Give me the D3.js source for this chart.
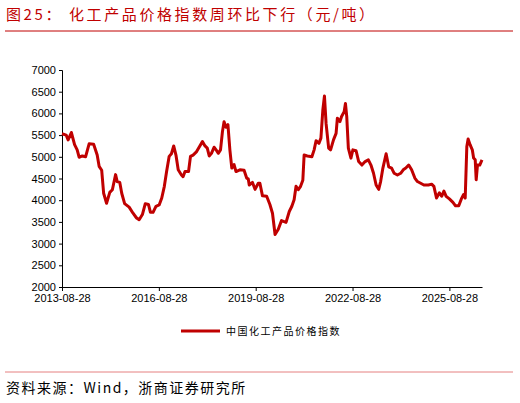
<!DOCTYPE html>
<html>
<head>
<meta charset="utf-8">
<script src="https://cdn.jsdelivr.net/npm/d3@7"></script>
<style>
  body { margin: 0; background: #fff; }
  svg { display: block; font-family: "Noto Sans CJK SC", "DejaVu Sans", sans-serif; }
</style>
</head>
<body>
<svg id="chart" width="520" height="403"></svg>
<script>
// decimal years
const years = [2013.66,2013.79,2013.85,2013.95,2014.05,2014.13,2014.19,2014.29,2014.39,2014.50,2014.64,2014.75,2014.81,2014.89,2014.95,
  2015.04,2015.14,2015.22,2015.32,2015.37,2015.45,2015.51,2015.60,2015.74,2015.86,2015.97,2016.05,2016.15,2016.24,2016.34,2016.40,
  2016.48,2016.57,2016.67,2016.75,2016.83,2016.90,2016.98,2017.05,2017.12,2017.19,2017.26,2017.36,2017.41,2017.47,2017.58,2017.64,
  2017.72,2017.83,2017.93,2018.01,2018.09,2018.16,2018.22,2018.29,2018.37,2018.45,2018.50,2018.57,2018.63,2018.68,2018.74,2018.80,
  2018.86,2018.92,2018.99,2019.05,2019.17,2019.30,2019.38,2019.43,2019.46,2019.56,2019.64,2019.74,
  2019.79,2019.87,2020.00,2020.10,2020.18,2020.26,2020.36,2020.46,2020.60,2020.70,2020.78,2020.85,2020.91,2020.98,2021.05,2021.12,
  2021.16,2021.26,2021.40,2021.47,2021.53,2021.62,2021.68,2021.74,2021.79,2021.84,2021.92,2021.98,2022.07,2022.15,2022.19,2022.27,
  2022.32,2022.40,2022.44,2022.48,2022.53,2022.61,2022.67,2022.77,2022.85,2022.95,2023.05,2023.15,2023.23,2023.31,2023.39,2023.47,
  2023.53,2023.60,2023.70,2023.78,2023.87,2023.95,2024.05,2024.15,2024.23,2024.31,2024.40,2024.49,2024.59,2024.67,2024.77,2024.87,
  2025.01,2025.11,2025.18,2025.26,2025.35,2025.42,2025.49,2025.56,2025.66,2025.77,2025.85,2025.95,2026.03,2026.10,2026.15,2026.20,
  2026.24,2026.30,2026.37,2026.41,2026.46,2026.49,2026.53,2026.60,2026.67];
const values = [5530,5500,5390,5560,5280,5160,4990,5020,5000,5300,5290,5040,4780,4690,4160,
  3930,4180,4240,4590,4430,4410,4160,3920,3840,3700,3590,3550,3670,3920,3900,3720,
  3720,3860,3890,4050,4320,4660,5010,5070,5250,5040,4700,4580,4540,4660,4660,5010,
  5040,5120,5250,5350,5250,5200,5020,5080,5220,5140,5080,5160,5580,5810,5680,5740,
  5160,4740,4820,4660,4700,4690,4510,4490,4350,4410,4250,4390,
  4390,4100,4090,3900,3700,3210,3330,3530,3490,3740,3860,4010,4320,4240,4320,4460,
  5040,5020,5000,5160,5370,5310,5430,6080,6400,5770,5200,5160,5390,5540,5890,5810,
  5930,6040,6230,5930,5200,4970,5160,5140,4890,4810,4890,4930,4810,4620,4350,4250,
  4430,4740,5070,4770,4740,4620,4580,4620,4700,4740,4810,4700,4510,4430,4390,4350,
  4350,4370,4320,4050,4170,4090,4210,4090,4030,3950,3870,3870,4030,4130,4050,5240,
  5410,5280,5160,4970,4930,4470,4810,4810,4930];
const tickYears = [2013.66, 2016.66, 2019.66, 2022.66, 2025.66];
const tickLabels = ["2013-08-28", "2016-08-28", "2019-08-28", "2022-08-28", "2025-08-28"];
const yTicks = [2000, 2500, 3000, 3500, 4000, 4500, 5000, 5500, 6000, 6500, 7000];

const svg = d3.select('#chart');
const red = '#c00000';
const plot = { left: 62, right: 482, top: 70, bottom: 287 };

const x = d3.scaleLinear().domain([2013.66, 2026.67]).range([plot.left, plot.right]);
const y = d3.scaleLinear().domain([2000, 7000]).range([plot.bottom, plot.top]);

// title
svg.append('text').attr('x', 6).attr('y', 20)
  .attr('fill', red).style('font-size', '15px').attr('letter-spacing', '2.6px')
  .text('图25：  化工产品价格指数周环比下行（元/吨）');
svg.append('line').attr('x1', 5).attr('x2', 513).attr('y1', 31).attr('y2', 31)
  .attr('stroke', red).attr('stroke-width', 1);

// axes
const yAxis = svg.append('g').attr('transform', `translate(${plot.left},0)`)
  .call(d3.axisLeft(y).tickValues(yTicks).tickSize(3).tickFormat(d3.format('d')));
const xAxis = svg.append('g').attr('transform', `translate(0,${plot.bottom})`)
  .call(d3.axisBottom(x).tickValues(tickYears).tickSize(4).tickSizeOuter(0)
    .tickFormat((d, i) => tickLabels[i]));
svg.selectAll('.domain, .tick line').attr('stroke', '#000');
svg.selectAll('.tick text').attr('fill', '#000')
  .style('font-family', '"Liberation Sans", Arial, sans-serif').style('font-size', '11px');
yAxis.selectAll('.tick text').attr('x', -6);

// line
const line = d3.line().x((d, i) => x(years[i])).y(d => y(d));
svg.append('path').datum(values)
  .attr('fill', 'none').attr('stroke', red).attr('stroke-width', 3)
  .attr('stroke-linejoin', 'round').attr('d', line);

// legend
svg.append('line').attr('x1', 181).attr('x2', 220).attr('y1', 331).attr('y2', 331)
  .attr('stroke', red).attr('stroke-width', 3);
svg.append('text').attr('x', 226).attr('y', 335).style('font-size', '10px').attr('fill', '#000')
  .attr('letter-spacing', '1.5px').text('中国化工产品价格指数');

// source
svg.append('line').attr('x1', 5).attr('x2', 513).attr('y1', 372).attr('y2', 372)
  .attr('stroke', '#e58080').attr('stroke-width', 1);
svg.append('text').attr('x', 6).attr('y', 393).style('font-size', '14px').attr('fill', '#000')
  .attr('letter-spacing', '1.5px')
  .text('资料来源：Wind，浙商证券研究所');
</script>
</body>
</html>
